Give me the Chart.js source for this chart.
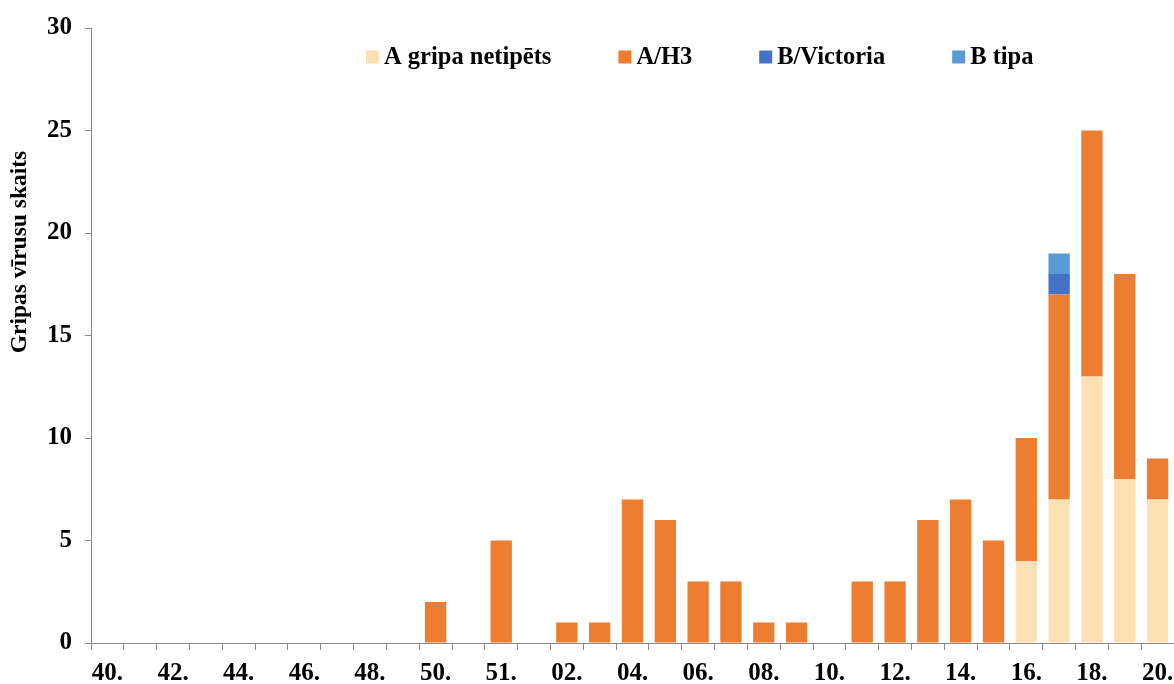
<!DOCTYPE html>
<html lang="lv">
<head>
  <meta charset="UTF-8">
  <title>Gripas vīrusu skaits</title>
  <script src="https://cdn.jsdelivr.net/npm/chart.js"></script>
  <style>
    body {
      margin: 0;
      background: #fff;
    }
    #wrap {
      width: 1174px;
      height: 684px;
    }
  </style>
</head>
<body>

<div id="wrap"><canvas id="gripaChart"></canvas></div>

<script>
// nedēļas (rādīta katra otrā)
const nedelas = ['40.', '41.', '42.', '43.', '44.', '45.', '46.', '47.', '48.', '49.', '50.', '51.', '51.',
  '01.', '02.', '03.', '04.', '05.', '06.', '07.', '08.', '09.', '10.', '11.', '12.', '13.', '14.', '15.',
  '16.', '17.', '18.', '19.', '20.'];

const aNetipets = [0, 0, 0, 0, 0, 0, 0, 0, 0, 0, 0, 0, 0, 0, 0, 0, 0, 0, 0, 0, 0, 0, 0, 0, 0, 0, 0, 0, 4, 7, 13, 8, 7];
const aH3 = [0, 0, 0, 0, 0, 0, 0, 0, 0, 0, 2, 0, 5, 0, 1, 1, 7, 6, 3, 3, 1, 1, 0, 3, 3, 6, 7, 5, 6, 10, 12, 10, 2];
const bVictoria = [0, 0, 0, 0, 0, 0, 0, 0, 0, 0, 0, 0, 0, 0, 0, 0, 0, 0, 0, 0, 0, 0, 0, 0, 0, 0, 0, 0, 0, 1, 0, 0, 0];
const bTipa = [0, 0, 0, 0, 0, 0, 0, 0, 0, 0, 0, 0, 0, 0, 0, 0, 0, 0, 0, 0, 0, 0, 0, 0, 0, 0, 0, 0, 0, 1, 0, 0, 0];

const yTicks = [0, 5, 10, 15, 20, 25, 30];
const yNosaukums = 'Gripas vīrusu skaits';

const FONT = '"Liberation Serif", "Times New Roman", serif';
const AXIS_GREY = '#898989';

// leģenda un ass nosaukums zīmēti pašrocīgi, kā oriģinālā
const uzraksti = {
  id: 'uzraksti',
  afterDraw(chart) {
    const ctx = chart.ctx;
    const y = 57;
    let x = 366;
    ctx.save();
    ctx.font = 'bold 24.5px ' + FONT;
    ctx.textBaseline = 'middle';
    ctx.textAlign = 'left';
    chart.data.datasets.forEach(ds => {
      ctx.fillStyle = ds.backgroundColor;
      ctx.fillRect(x, y - 6.5, 13, 13);
      ctx.fillStyle = '#000';
      ctx.fillText(ds.label, x + 18, y + 1);
      x += 18 + ctx.measureText(ds.label).width + 67;
    });

    // y ass nosaukums
    ctx.translate(20, 252);
    ctx.rotate(-Math.PI / 2);
    ctx.font = 'bold 23.5px ' + FONT;
    ctx.textAlign = 'center';
    ctx.fillText(yNosaukums, 0, 0);
    ctx.restore();
  }
};

const ctx = document.getElementById('gripaChart').getContext('2d');
new Chart(ctx, {
  type: 'bar',
  data: {
    labels: nedelas,
    datasets: [
      { label: 'A gripa netipēts', data: aNetipets, backgroundColor: '#FEE0B5' },
      { label: 'A/H3', data: aH3, backgroundColor: '#ED7D31' },
      { label: 'B/Victoria', data: bVictoria, backgroundColor: '#4472C4' },
      { label: 'B tipa', data: bTipa, backgroundColor: '#5B9BD5' }
    ]
  },
  options: {
    responsive: true,
    maintainAspectRatio: false,
    animation: false,
    layout: { padding: { top: 27, right: 0, bottom: 0, left: 0 } },
    datasets: {
      bar: { categoryPercentage: 1, barPercentage: 0.65 }
    },
    plugins: {
      legend: { display: false },
      tooltip: { enabled: false }
    },
    scales: {
      x: {
        stacked: true,
        offset: true,
        grid: { offset: true, drawOnChartArea: false, tickLength: 7, color: AXIS_GREY },
        border: { color: AXIS_GREY },
        ticks: {
          autoSkip: false,
          maxRotation: 0,
          padding: 9,
          color: '#000',
          font: { family: FONT, size: 25, weight: 'bold' },
          callback: (v, i) => (i % 2 === 0 ? nedelas[i] : '')
        },
        afterFit: axis => {
          axis.height = 41;
          axis.paddingLeft = 0;
          axis.paddingRight = 0;
        }
      },
      y: {
        stacked: true,
        min: 0,
        max: 30,
        grid: { drawOnChartArea: false, tickLength: 6, color: AXIS_GREY },
        border: { color: AXIS_GREY },
        afterBuildTicks: axis => { axis.ticks = yTicks.map(v => ({ value: v })); },
        ticks: {
          padding: 13,
          color: '#000',
          font: { family: FONT, size: 25, weight: 'bold' }
        },
        afterFit: axis => { axis.width = 91; }
      }
    }
  },
  plugins: [uzraksti]
});
</script>

</body>
</html>
